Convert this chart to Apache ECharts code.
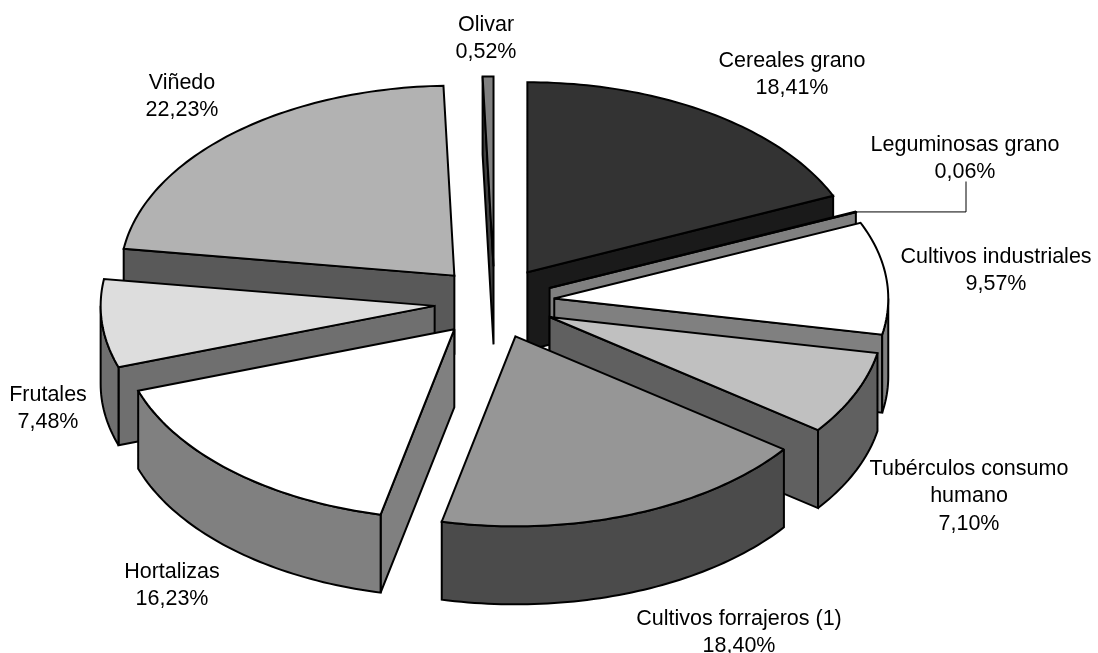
<!DOCTYPE html>
<html>
<head>
<meta charset="utf-8">
<style>html,body{margin:0;padding:0;background:#fff}#c{width:1098px;height:653px}</style>
<script src="https://cdn.jsdelivr.net/npm/echarts@6/dist/echarts.min.js"></script>
</head>
<body>
<div id="c"></div>
<script>
const categories = ['Cereales grano','Leguminosas grano','Cultivos industriales','Tubérculos consumo\nhumano','Cultivos forrajeros (1)','Hortalizas','Frutales','Viñedo','Olivar'];
const values = [18.41,0.06,9.57,7.10,18.40,16.23,7.48,22.23,0.52];

// Styling and layout, separate from the data
const topColors = ['#333333','#808080','#ffffff','#c0c0c0','#969696','#ffffff','#dddddd','#b2b2b2','#808080'];
const wallColors = ['#1a1a1a','#808080','#808080','#606060','#4b4b4b','#808080','#6f6f6f','#595959','#404040'];
const labelCenters = [[792,61],[965,145],[996,257],[969,469],[739,619],[172,572],[48,395],[182,83],[486,25]];
const pie = {cx:494.5, cy:302.5, rx:334, ry:190, explodeX:0.18, explodeY:0.19, depth:78};
const LINE_H = 27.5, FONT = 21.5;

const total = values.reduce((a,b)=>a+b,0);
let acc = 0;
const spans = values.map(v=>{const s=acc/total*Math.PI*2; acc+=v; return [s,acc/total*Math.PI*2];});
const backToFront = values.map((_,i)=>i).sort((a,b)=>Math.cos((spans[b][0]+spans[b][1])/2)-Math.cos((spans[a][0]+spans[a][1])/2));

function sampleArc(ox,oy,a,b,dy){
  const n=Math.max(2,Math.ceil(Math.abs(b-a)/0.02)), pts=[];
  for(let k=0;k<=n;k++){const t=a+(b-a)*k/n; pts.push([ox+pie.rx*Math.sin(t), oy-pie.ry*Math.cos(t)+dy]);}
  return pts;
}

function renderItem(params, api){
  const i = params.dataIndex;
  const [a,b] = spans[i];
  const m = (a+b)/2;
  const ox = pie.cx + pie.explodeX*pie.rx*Math.sin(m);
  const oy = pie.cy - pie.explodeY*pie.ry*Math.cos(m);
  const order = backToFront.indexOf(i);
  const sty = (fill)=>({fill, stroke:'#000', lineWidth:2, lineJoin:'miter', miterLimit:2});
  const kids = [];
  let z = order*10+1;
  const poly = (pts,fill)=>kids.push({type:'polygon', z2:z++, shape:{points:pts}, style:sty(fill)});
  const radial = (t)=>{
    const px=ox+pie.rx*Math.sin(t), py=oy-pie.ry*Math.cos(t);
    poly([[ox,oy],[px,py],[px,py+pie.depth],[ox,oy+pie.depth]], wallColors[i]);
  };
  if(Math.sin(a)<0) radial(a);
  if(Math.sin(b)>0) radial(b);
  const wa=Math.max(a,Math.PI/2), wb=Math.min(b,Math.PI*1.5);
  if(wb>wa){
    poly(sampleArc(ox,oy,wa,wb,0).concat(sampleArc(ox,oy,wa,wb,pie.depth).reverse()), wallColors[i]);
  }
  poly([[ox,oy]].concat(sampleArc(ox,oy,a,b,0)), topColors[i]);

  // Label
  const txt = categories[i]+'\n'+api.value(1).toFixed(2).replace('.',',')+'%';
  const [lx,ly] = labelCenters[i];
  txt.split('\n').forEach((line,k)=>{
    kids.push({type:'text', z2:1000, style:{x:lx, y:ly+k*LINE_H, text:line, fill:'#000',
      font:FONT+'px "Liberation Sans", Arial, sans-serif', textAlign:'center', textVerticalAlign:'middle'}});
  });
  // Leader line for the thin slice
  if(categories[i]==='Leguminosas grano'){
    const px=ox+pie.rx*Math.sin(m), py=oy-pie.ry*Math.cos(m);
    kids.push({type:'polyline', z2:z++, shape:{points:[[px,py],[lx+1,py],[lx+1,ly+LINE_H+9]]}, style:{fill:'none',stroke:'#000',lineWidth:1}});
  }
  return {type:'group', children:kids};
}

const chart = echarts.init(document.getElementById('c'), null, {renderer:'canvas', width:1098, height:653});
chart.setOption({
  animation:false,
  backgroundColor:'#ffffff',
  xAxis:{show:false,type:'category',data:categories},
  yAxis:{show:false,type:'value'},
  grid:{left:0,right:0,top:0,bottom:0},
  series:[{type:'custom', renderItem, coordinateSystem:'none', clip:false, encode:{x:0,y:1},
    data:categories.map((c,i)=>[c,values[i]]), silent:true}]
});
</script>
</body>
</html>
